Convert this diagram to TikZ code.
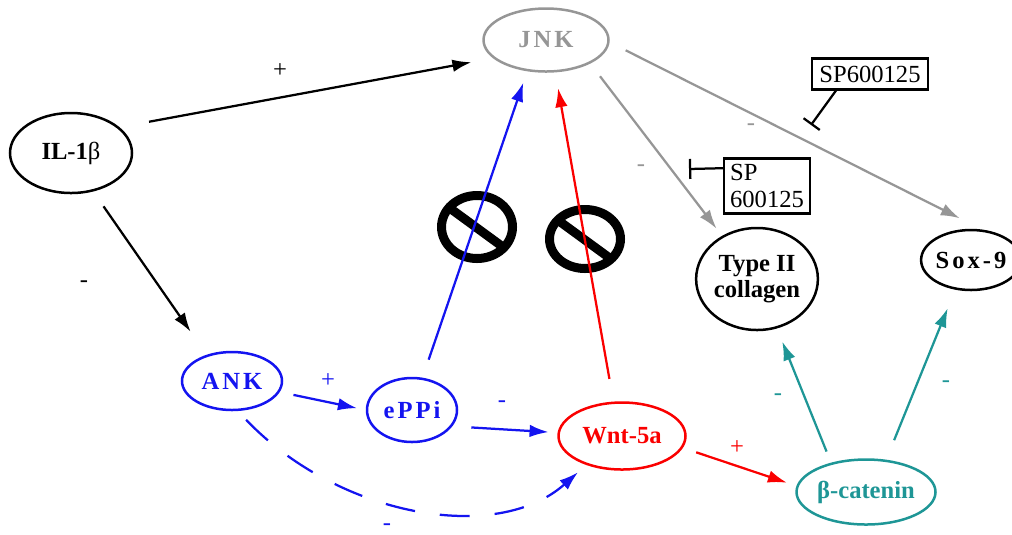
\documentclass[tikz,border=0pt]{standalone}
\usepackage{fontspec}
\setmainfont{Liberation Serif}
\newfontfamily\spaced[LetterSpace=12]{Liberation Serif}
\usepackage{tikz}
\usetikzlibrary{shapes.geometric, arrows.meta}
\usepackage{xcolor}
\definecolor{jnkgray}{RGB}{150,150,150}
\definecolor{ankblue}{RGB}{20,20,240}
\definecolor{wntred}{RGB}{250,0,0}
\definecolor{catteal}{RGB}{30,150,150}

\begin{document}
\begin{tikzpicture}[x=0.2mm, y=-0.2mm,
    ell/.style={ellipse, draw=#1, text=#1, line width=0.5mm, inner sep=0pt, font=\fontsize{14}{15}\selectfont\bfseries},
    ell/.default=black,
    lnk/.style={line width=0.45mm, -{Latex[length=3.8mm, width=2.5mm]}},
    sgn/.style={font=\fontsize{14}{15}\selectfont},
    inh/.style={line width=0.45mm, -{Bar[width=4mm, line width=0.45mm]}},
    drug/.style={draw, line width=0.45mm, inner sep=0.8mm, font=\fontsize{14}{15.5}\selectfont}]
    \useasboundingbox (0,0) rectangle (1012,534);
    % Verbote
    \foreach \cx/\cy/\ry in {477/227/31.5, 585/239/29.5} {
        \draw[line width=1.8mm] (\cx,\cy) ellipse [x radius=35.5, y radius=\ry];
        \draw[line width=1.8mm] (\cx-26,\cy-18) -- (\cx+26,\cy+20);
    }
    % Knoten
    \node[ell, minimum width=24.4mm, minimum height=16mm] (il) at (71,153) {IL-1{\mdseries β}};
    \node[ell=jnkgray, minimum width=25mm, minimum height=12.6mm] (jnk) at (546,40) {\spaced JNK};
    \node[ell=ankblue, minimum width=20mm, minimum height=11.6mm] (ank) at (232,381) {\spaced ANK};
    \node[ell=ankblue, minimum width=18mm, minimum height=12.8mm] (eppi) at (412,410) {\spaced ePPi};
    \node[ell=wntred, minimum width=25.4mm, minimum height=13.4mm] (wnt) at (622,436) {Wnt-5a};
    \node[ell=catteal, minimum width=27.8mm, minimum height=13mm] (bcat) at (866,492) {β-catenin};
    \node[ell, minimum width=24.2mm, minimum height=20.4mm, align=center] (col) at (757,279) {Type II\\collagen};
    \node[ell, minimum width=16.4mm, minimum height=12mm] (sox) at (971,260) {\spaced Sox-9};
    % Hemmer
    \node[drug, minimum width=23.2mm, minimum height=6.2mm] (spa) at (870,74) {SP600125};
    \node[drug, minimum width=17.2mm, minimum height=11mm, align=left] (spb) at (767,186) {SP\\600125};
    \coordinate (ta) at (811,125);
    \coordinate (tb) at (689,169);
    \draw[inh] (spa.206) -- (ta);
    \draw[inh] (spb.158) -- (tb);
    % Pfeile
    \draw[lnk, shorten <=6mm, shorten >=4.4mm] (il.28) -- (jnk.199);
    \draw[lnk, shorten <=3.6mm, shorten >=5.6mm] (il.-60) -- (ank.134);
    \draw[lnk, ankblue, shorten <=2.8mm, shorten >=1.8mm] (ank.-13) -- (eppi.180);
    \draw[lnk, ankblue, shorten <=3.8mm, shorten >=1.8mm] (eppi.-22) -- (wnt.177);
    \draw[lnk, ankblue, dash pattern=on 6mm off 5mm, shorten <=2.4mm, shorten >=2.2mm]
        (ank.-79) .. controls +(100,105) and +(-90,80) .. (wnt.219);
    \draw[lnk, ankblue, shorten <=3.8mm, shorten >=2.4mm] (eppi.72) -- (jnk.239);
    \draw[lnk, wntred, shorten <=4.6mm, shorten >=3.2mm] (wnt.104) -- (jnk.-74.5);
    \draw[lnk, wntred, shorten <=2.8mm, shorten >=2mm] (wnt.-11.6) -- (bcat.175);
    \draw[lnk, catteal, shorten <=2.4mm, shorten >=2.8mm] (bcat.140) -- (col.-68);
    \draw[lnk, catteal, shorten <=4.2mm, shorten >=4mm] (bcat.58) -- (sox.242);
    \draw[lnk, jnkgray, shorten <=3.2mm, shorten >=1.8mm] (jnk.-28) -- (col.129);
    \draw[lnk, jnkgray, shorten <=3.6mm, shorten >=5mm] (jnk.-2) -- (sox.70);
    % Vorzeichen
    \node[sgn] (p1) at (280,71) {+};
    \node[sgn] (m1) at (84,284) {-};
    \node[sgn, text=ankblue] (p2) at (328,381) {+};
    \node[sgn, text=ankblue] (m2) at (502,404) {-};
    \node[sgn, text=ankblue] (m3) at (387,527) {-};
    \node[sgn, text=wntred] (p3) at (737,448) {+};
    \node[sgn, text=catteal] (m4) at (778,397) {-};
    \node[sgn, text=catteal] (m5) at (946,384) {-};
    \node[sgn, text=jnkgray] (m6) at (641,168) {-};
    \node[sgn, text=jnkgray] (m7) at (751,127) {-};
\end{tikzpicture}
\end{document}
